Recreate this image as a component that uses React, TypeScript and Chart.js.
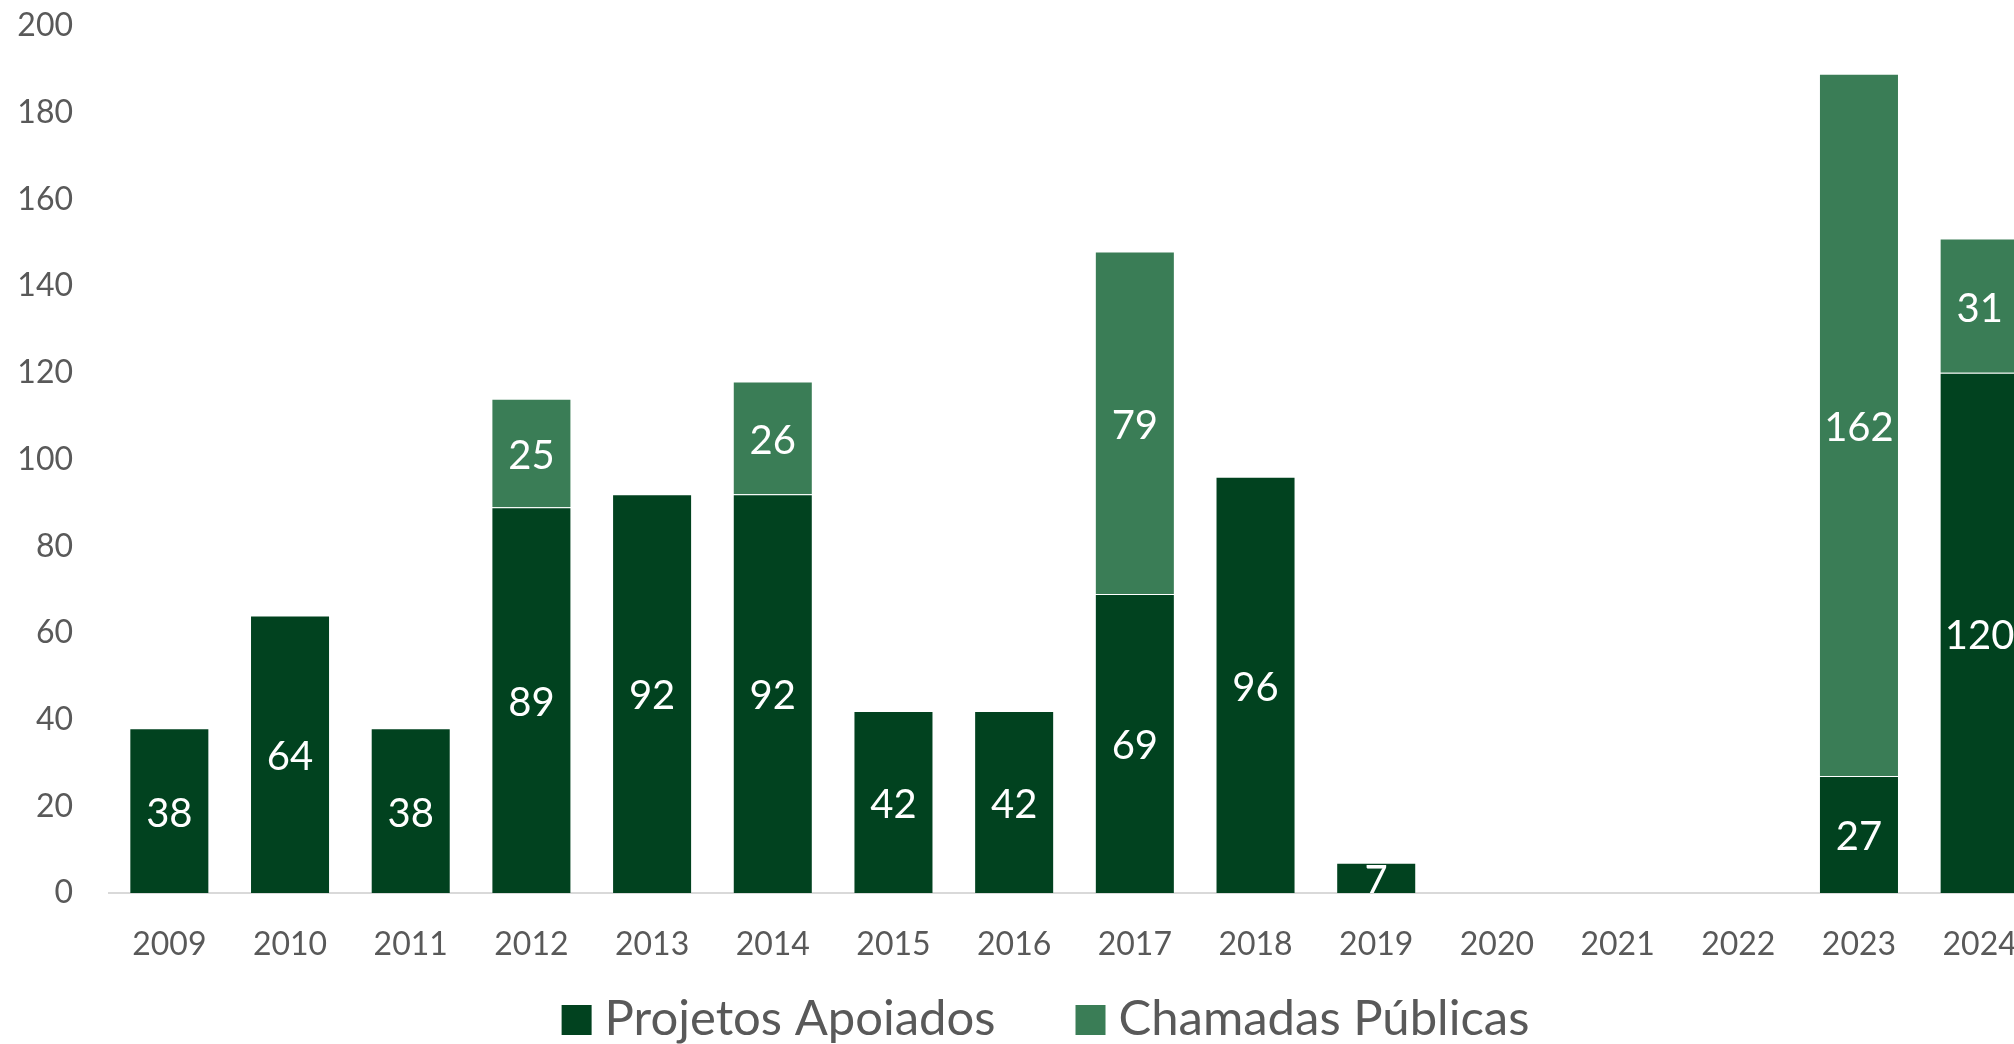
import React, { useEffect, useRef } from "react";
import { Chart, registerables } from "chart.js";

Chart.register(...registerables);

const years = [
  "2009", "2010", "2011", "2012", "2013", "2014", "2015", "2016",
  "2017", "2018", "2019", "2020", "2021", "2022", "2023", "2024",
];
const projetosApoiados = [38, 64, 38, 89, 92, 92, 42, 42, 69, 96, 7, 0, 0, 0, 27, 120];
const chamadasPublicas = [null, null, null, 25, null, 26, null, null, 79, null, null, null, null, null, 162, 31];
const seriesNames = ["Projetos Apoiados", "Chamadas Públicas"];
const seriesColors = ["#01421F", "#3A7D56"];
const yMin = 0;
const yMax = 200;
const yStep = 20;

const FONT = "Lato, 'Liberation Sans', sans-serif";
const TEXT_COLOR = "#595959";

const valueLabels = {
  id: "valueLabels",
  afterDatasetsDraw(chart: any) {
    const ctx = chart.ctx;
    const area = chart.chartArea;
    ctx.save();
    ctx.beginPath();
    ctx.rect(area.left, area.top, area.right - area.left, area.bottom - area.top);
    ctx.clip();
    ctx.fillStyle = "#FFFFFF";
    ctx.font = `40px ${FONT}`;
    ctx.textAlign = "center";
    ctx.textBaseline = "middle";
    chart.data.datasets.forEach((ds: any, i: number) => {
      const meta = chart.getDatasetMeta(i);
      meta.data.forEach((bar: any, j: number) => {
        const v = ds.data[j];
        if (v == null || v === 0) return;
        const { x, y, base } = bar.getProps(["x", "y", "base"], true);
        ctx.fillText(String(v), x, (y + base) / 2 + 3);
      });
    });
    ctx.restore();
  },
};

// Legend drawn at the bottom, centred on the full chart width
const bottomLegend = {
  id: "bottomLegend",
  afterDraw(chart: any) {
    const ctx = chart.ctx;
    const box = 30;
    const gapBoxText = 13;
    const gapItems = 80;
    const baseline = 1035;
    ctx.save();
    ctx.font = `49px ${FONT}`;
    ctx.textBaseline = "alphabetic";
    ctx.textAlign = "left";
    const items = chart.data.datasets.map((ds: any) => ({
      text: ds.label as string,
      color: ds.backgroundColor as string,
      w: ctx.measureText(ds.label).width,
    }));
    let total = 0;
    items.forEach((it: any, i: number) => {
      total += box + gapBoxText + it.w + (i > 0 ? gapItems : 0);
    });
    let x = chart.width / 2 - total / 2;
    items.forEach((it: any) => {
      ctx.fillStyle = it.color;
      ctx.fillRect(x, 1005, box, box);
      x += box + gapBoxText;
      ctx.fillStyle = TEXT_COLOR;
      ctx.fillText(it.text, x, baseline);
      x += it.w + gapItems;
    });
    ctx.restore();
  },
};

export default function App() {
  const canvasRef = useRef<HTMLCanvasElement | null>(null);

  useEffect(() => {
    if (!canvasRef.current) return;
    const chart = new Chart(canvasRef.current, {
      type: "bar",
      data: {
        labels: years,
        datasets: [
          {
            label: seriesNames[0],
            data: projetosApoiados,
            backgroundColor: seriesColors[0],
            borderColor: "rgba(255,255,255,0.15)",
            borderWidth: 1,
            categoryPercentage: 1,
            barPercentage: 0.663,
          },
          {
            label: seriesNames[1],
            data: chamadasPublicas as any,
            backgroundColor: seriesColors[1],
            borderColor: "rgba(255,255,255,0.15)",
            borderWidth: 1,
            categoryPercentage: 1,
            barPercentage: 0.663,
          },
        ],
      },
      options: {
        animation: false,
        responsive: true,
        maintainAspectRatio: false,
        devicePixelRatio: 1,
        layout: { padding: { top: 26, bottom: 71, left: 0, right: 0 } },
        plugins: {
          tooltip: { enabled: false },
          legend: { display: false },
        },
        scales: {
          x: {
            stacked: true,
            grid: { display: false, drawTicks: false },
            border: { display: true, color: "#D9D9D9", width: 2 },
            ticks: { font: { size: 32, family: FONT }, color: TEXT_COLOR, padding: 32, maxRotation: 0, autoSkip: false },
            afterFit: (s: any) => {
              s.height = 80;
            },
          },
          y: {
            stacked: true,
            min: yMin,
            max: yMax,
            grid: { display: false, drawTicks: false },
            border: { display: false },
            ticks: { stepSize: yStep, font: { size: 32, family: FONT }, color: TEXT_COLOR, padding: 36 },
            afterFit: (s: any) => {
              s.width = 109;
              s.paddingTop = 0;
              s.paddingBottom = 0;
            },
          },
          yR: {
            position: "right",
            display: true,
            grid: { display: false, drawTicks: false },
            border: { display: false },
            ticks: { display: false },
            afterFit: (s: any) => {
              s.width = 51;
              s.paddingTop = 0;
              s.paddingBottom = 0;
            },
          },
        },
      },
      plugins: [valueLabels, bottomLegend],
    });
    return () => chart.destroy();
  }, []);

  return (
    <div style={{ position: "fixed", left: 0, top: 0, width: 2014, height: 1044, overflow: "hidden", background: "#FFFFFF" }}>
      <div style={{ position: "relative", width: 2091, height: 1044 }}>
        <canvas ref={canvasRef} />
      </div>
    </div>
  );
}
